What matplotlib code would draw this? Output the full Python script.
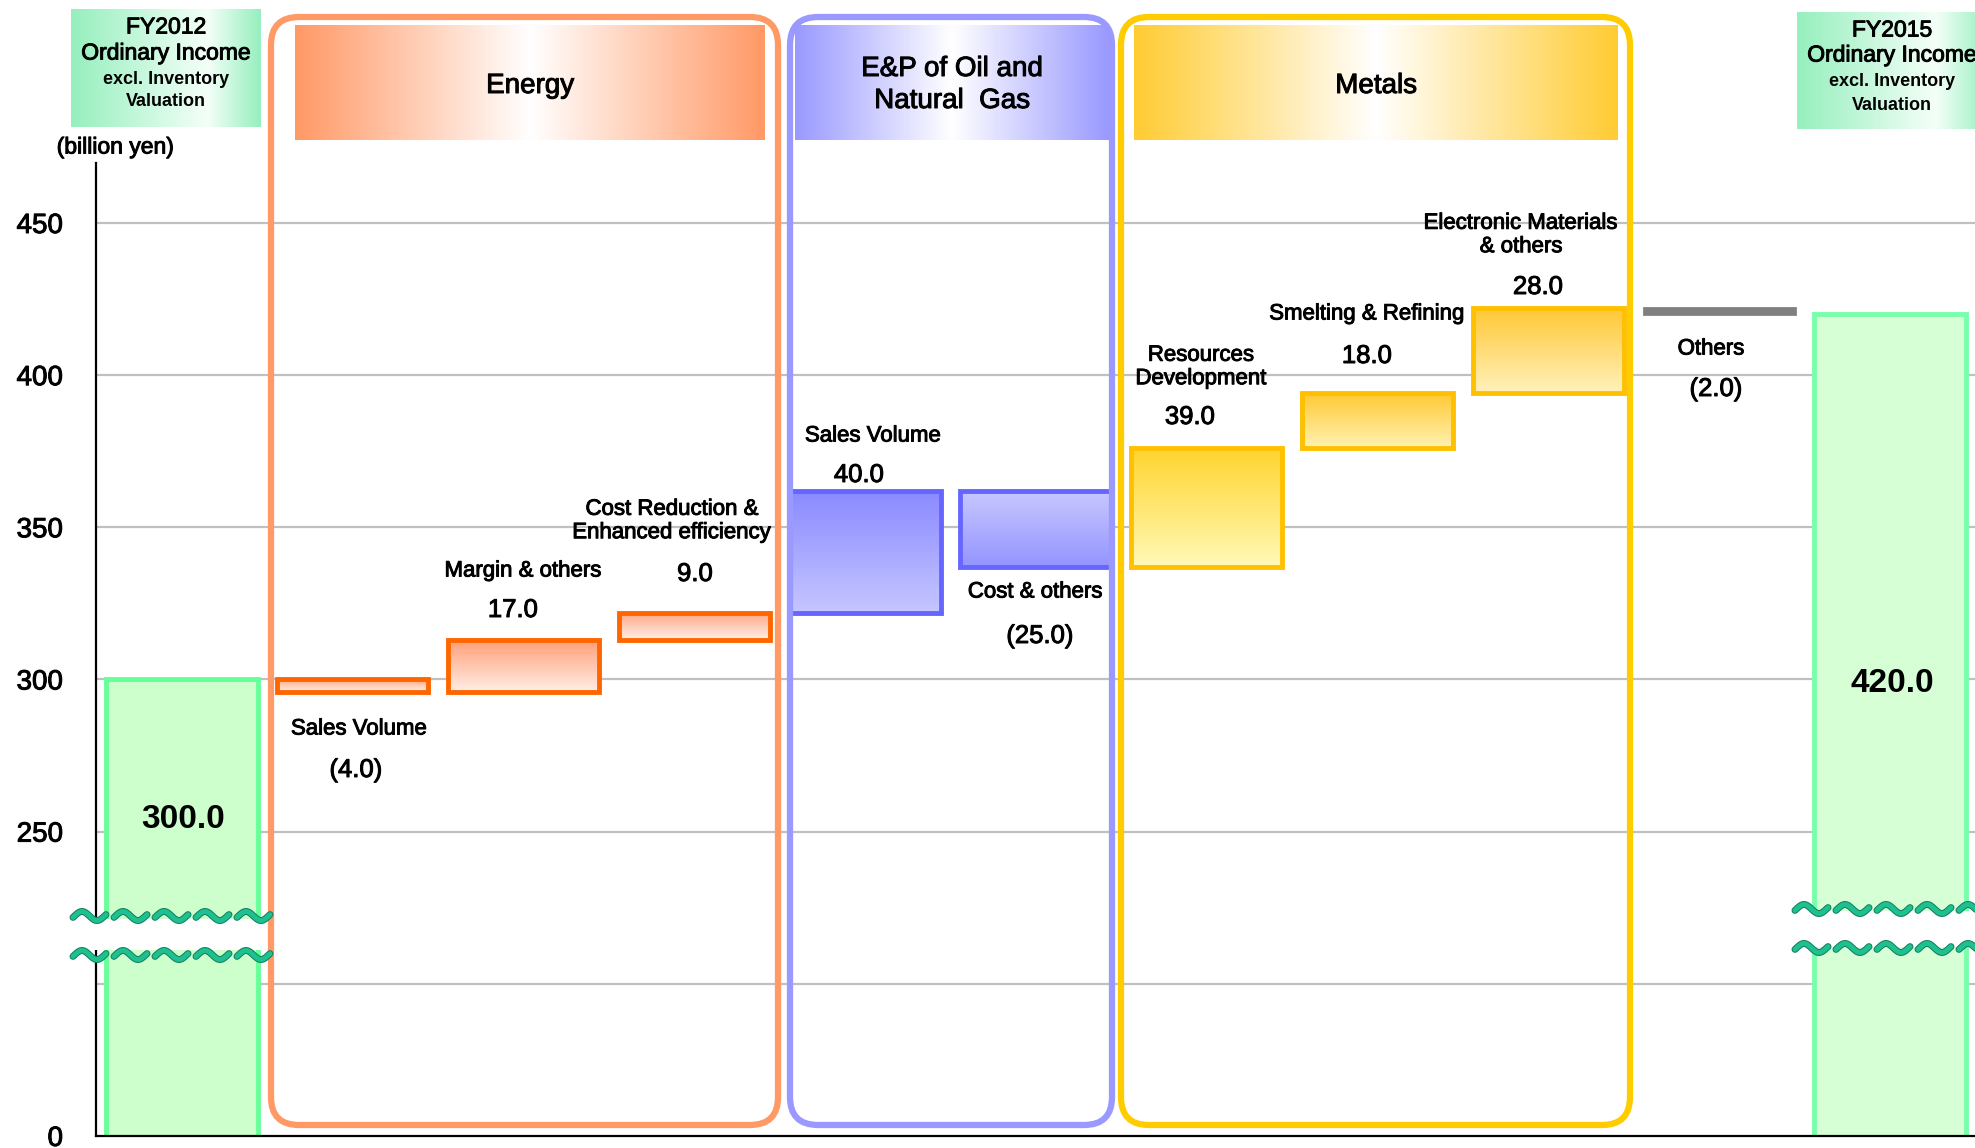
import numpy as np
import matplotlib.pyplot as plt
from matplotlib.patches import FancyBboxPatch, Rectangle
from matplotlib.colors import LinearSegmentedColormap
import matplotlib.patheffects as pe

plt.rcParams['font.family'] = ['Liberation Sans', 'DejaVu Sans']

# ---- data (billion yen) ----
start_label = "FY2012"
end_label = "FY2015"
start_value = 300.0
end_value = 420.0
step_names = ["Sales Volume", "Margin & others", "Cost Reduction &\nEnhanced efficiency",
              "Sales Volume", "Cost & others",
              "Resources\nDevelopment", "Smelting & Refining", "Electronic Materials\n& others",
              "Others"]
step_values = [-4.0, 17.0, 9.0, 40.0, -25.0, 39.0, 18.0, 28.0, -2.0]
step_groups = ["Energy", "Energy", "Energy", "E&P", "E&P", "Metals", "Metals", "Metals", "Others"]
group_names = ["Energy", "E&P", "Metals"]
group_titles = [["Energy"], ["E&P of Oil and", "Natural  Gas"], ["Metals"]]
y_ticks = [150, 200, 250, 300, 350, 400, 450]
y_tick_labels = ["0", "", "250", "300", "350", "400", "450"]

# ---- styles ----
edge_col = {"Energy": "#FF6600", "E&P": "#6666FF", "Metals": "#FFC000", "Others": "#808080"}
grad_col = [("#FFF4EE", "#FFA47E"), ("#FFEEE6", "#FF9F78"), ("#FFF0EA", "#FFA683"),
            ("#C6C6FF", "#8A8AFF"), ("#9494FF", "#C8C8FF"),
            ("#FFFAB8", "#FFD42E"), ("#FFF2B4", "#FFC933"), ("#FFF2BC", "#FFC733"),
            None]
box_col = {"Energy": "#FF9966", "E&P": "#9999FF", "Metals": "#FFCC00"}
head_col = {"Energy": "#FF9966", "E&P": "#9999FF", "Metals": "#FFCC33"}
heavy = [pe.withStroke(linewidth=0.7, foreground='black')]

W, H = 1975, 1148
fig = plt.figure(figsize=(W / 100, H / 100), dpi=100)

# pixel <-> data helpers for layout
X0, XS = 182.0, 170.8
Y450, YS = 223.0, 3.043
def dx(px):
    return (px - X0) / XS
def dy(py):
    return 450 - (py - Y450) / YS

bottom_px = Y450 + 300 * YS
ax = fig.add_axes([0, (H - bottom_px) / H, 1, bottom_px / H])

bw = 0.885
for s in ax.spines.values():
    s.set_visible(False)
ax.set_xticks([])
ax.set_yticks(y_ticks, y_tick_labels)
ax.tick_params(axis='y', length=0, pad=-45.4, labelsize=20)
for lab in ax.get_yticklabels():
    lab.set_path_effects(heavy)

ax.hlines(y_ticks[1:], dx(96), dx(W), color='#C0C0C0', lw=1.6, zorder=0)
ax.plot([dx(96), dx(96)], [150, dy(163)], color='black', lw=1.6, zorder=4, clip_on=False)
ax.plot([dx(96), dx(W)], [150, 150], color='black', lw=1.6, zorder=4, clip_on=False)

# start / end bars
n = len(step_values)
ax.bar(0, start_value, width=bw, color='#CCFFCC', edgecolor='#66FF99', lw=3.5, zorder=2)
ax.bar(n + 1, end_value, width=bw, color='#D6FFD6', edgecolor='#77FFAA', lw=3.5, zorder=2)

# step bars
grad = np.linspace(0, 1, 256).reshape(-1, 1)
level = start_value
for i, (v, g) in enumerate(zip(step_values, step_groups)):
    x = i + 1
    if g == "Others":
        ax.bar(x, v, bottom=level, width=bw, color=edge_col[g], edgecolor=edge_col[g],
               lw=2, zorder=3)
    else:
        lo, hi = min(level, level + v), max(level, level + v)
        cm = LinearSegmentedColormap.from_list('g%d' % i, list(grad_col[i]))
        ax.imshow(grad, extent=[x - bw / 2, x + bw / 2, lo, hi], origin='lower',
                  cmap=cm, aspect='auto', zorder=2)
        ax.bar(x, v, bottom=level, width=bw, color='none', edgecolor=edge_col[g],
               lw=3.5, zorder=3)
    level += v

# white gaps where the axis is broken
for x0p, x1p, y0p, y1p in [(80, 265, 919, 950), (1800, 1975, 911, 947)]:
    ax.add_patch(Rectangle((dx(x0p), dy(y1p)), dx(x1p) - dx(x0p), dy(y0p) - dy(y1p),
                           facecolor='white', edgecolor='none', zorder=6))

ax.set_xlim(dx(0), dx(W))
ax.set_ylim(150, dy(0))

# ---- overlay in pixel coordinates ----
ov = fig.add_axes([0, 0, 1, 1], label='overlay')
ov.set_xlim(0, W)
ov.set_ylim(H, 0)
ov.axis('off')

# group boxes
boxes = {"Energy": (271, 778), "E&P": (790, 1112), "Metals": (1121, 1630)}
for g in group_names:
    x0, x1 = boxes[g]
    ov.add_patch(FancyBboxPatch((x0, 17), x1 - x0, 1108,
                                boxstyle='round,pad=0,rounding_size=28',
                                fill=False, ec=box_col[g], lw=4.5, zorder=4))

# headers with horizontal gradient
hgrad = np.linspace(0, 1, 256).reshape(1, -1)
heads = {"Energy": (295, 765), "E&P": (795, 1109), "Metals": (1134, 1618)}
for g, lines in zip(group_names, group_titles):
    x0, x1 = heads[g]
    cm = LinearSegmentedColormap.from_list('h' + g, [head_col[g], 'white', head_col[g]])
    ov.imshow(hgrad, extent=[x0, x1, 140, 25], cmap=cm, aspect='auto', zorder=2)
    if len(lines) == 1:
        ys = [86]
    else:
        ys = [69, 101]
    for yy, t in zip(ys, lines):
        ov.text((x0 + x1) / 2, yy, t, ha='center', va='center', fontsize=20, zorder=5,
                path_effects=heavy)

# green title boxes
gcm = LinearSegmentedColormap.from_list('green', [(0, '#96EFBE'), (0.72, '#F4FFF8'), (1, '#96EFBE')])
ov.imshow(hgrad, extent=[71, 261, 127, 9], cmap=gcm, aspect='auto', zorder=2)
ov.imshow(hgrad, extent=[1797, 1990, 129, 12], cmap=gcm, aspect='auto', zorder=2)
for cx, ys, lab in [(166, (27, 53, 80, 102), start_label), (1892, (30, 55, 82, 105), end_label)]:
    ov.text(cx, ys[0], lab, ha='center', va='center', fontsize=16.5, zorder=5,
            path_effects=heavy)
    ov.text(cx, ys[1], "Ordinary Income", ha='center', va='center', fontsize=16.5, zorder=5,
            path_effects=heavy)
    ov.text(cx, ys[2], "excl. Inventory", ha='center', va='center', fontsize=13,
            fontweight='bold', zorder=5)
    ov.text(cx, ys[3], "Valuation", ha='center', va='center', fontsize=13,
            fontweight='bold', zorder=5)

ov.text(115, 147, "(billion yen)", ha='center', va='center', fontsize=16.5, zorder=5,
        path_effects=heavy)

# step labels
name_pos = [(359, 729), (523, 571), (672, 521), (873, 436), (1035, 592),
            (1201, 367), (1367, 314), (1521, 235), (1711, 349)]
value_pos = [(356, 770), (513, 610), (695, 574), (859, 475), (1040, 636),
             (1190, 417), (1367, 356), (1538, 287), (1716, 389)]
for name, v, (nx, ny), (vx, vy) in zip(step_names, step_values, name_pos, value_pos):
    ov.text(nx, ny, name, ha='center', va='center', fontsize=16, zorder=5,
            linespacing=1.15, path_effects=heavy)
    vs = "%.1f" % v if v >= 0 else "(%.1f)" % abs(v)
    ov.text(vx, vy, vs, ha='center', va='center', fontsize=18.5, zorder=5,
            path_effects=heavy)

ov.text(183, 820, "%.1f" % start_value, ha='center', va='center', fontsize=24,
        fontweight='bold', zorder=5)
ov.text(1892, 683, "%.1f" % end_value, ha='center', va='center', fontsize=24,
        fontweight='bold', zorder=5)

# wavy break marks
t = np.linspace(-0.05, 1.05, 40)
for xs, ys in [(73, (916, 955)), (1795, (909, 948))]:
    for yc in ys:
        for k in range(5):
            xx = xs + 41 * k + 33 * (t + 0.05) / 1.1
            yy = yc - 4.5 * np.sin(2 * np.pi * t)
            ov.plot(xx, yy, color='#1DC08E', lw=3.6, solid_capstyle='round', zorder=6,
                    path_effects=[pe.Stroke(linewidth=5, foreground='#127A5C'), pe.Normal()])

fig.savefig('out.png', dpi=100)
